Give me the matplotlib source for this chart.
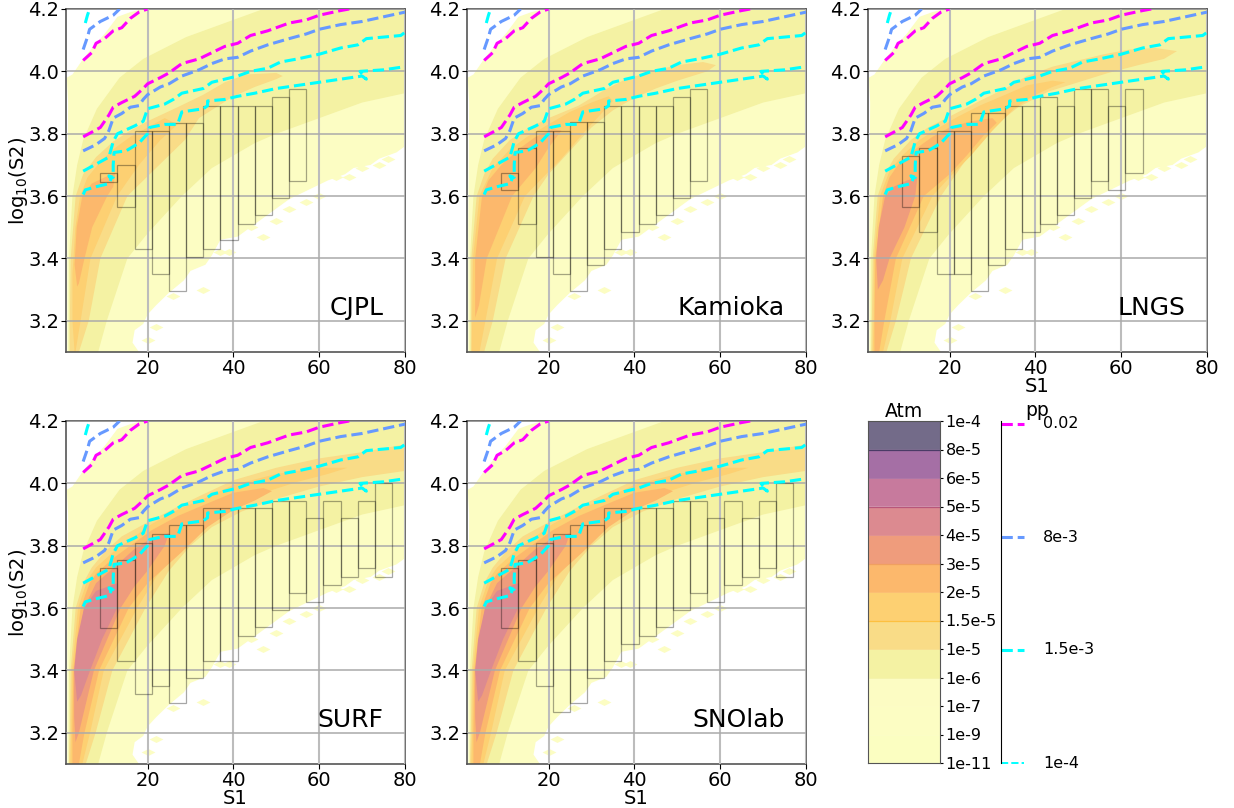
import matplotlib
matplotlib.use("Agg")
import matplotlib.pyplot as plt
from matplotlib.markers import MarkerStyle
from matplotlib.patches import Rectangle
from matplotlib.transforms import Affine2D

# colours of the Atm bands, bottom to top
band_colors = ["#fbfec1", "#fcfdc3", "#fcfcc3", "#f4f2a3", "#f9dc87", "#fdd072",
               "#fcb86c", "#ef9c7c", "#dc8a90", "#c77a9d", "#a56fa5", "#736b89"]
atm_ticks = ["1e-11", "1e-9", "1e-7", "1e-6", "1e-5", "1.5e-5", "2e-5", "3e-5",
             "4e-5", "5e-5", "6e-5", "8e-5", "1e-4"]
pp_ticks = ["1e-4", "1.5e-3", "8e-3", "0.02"]
pp_colors = ["cyan", "cyan", "#6699ff", "magenta"]

# outer pale region, same in every panel
c0_x = [1.3, 1.3, 1.5, 1.2, 2.5, 5, 8, 10, 13, 16, 19, 80, 80, 78, 74, 72, 68, 66, 62, 59, 56, 53, 50, 47, 44,
        41, 37, 35, 33.5, 30, 28.5, 25, 22, 20, 19, 17, 16.5, 18]
c0_y = [3.1, 3.5, 3.9, 3.98, 3.99, 4.04, 4.09, 4.12, 4.175, 4.19, 4.2, 4.2, 3.76, 3.74, 3.72, 3.70, 3.69, 3.67,
        3.65, 3.63, 3.61, 3.59, 3.56, 3.53, 3.50, 3.47, 3.46, 3.41, 3.38, 3.36, 3.33, 3.29, 3.25, 3.22, 3.19, 3.17,
        3.13, 3.1]
# 1e-6 contour, same in every panel
c1_x = [1.6, 1.7, 2.5, 3.6, 5, 8.2, 13.5, 19, 29, 40, 47, 80, 80, 70, 60, 50, 45, 40, 35, 28, 20, 15.3, 10.5, 8.5]
c1_y = [3.1, 3.4, 3.6, 3.7, 3.78, 3.88, 3.98, 4.04, 4.11, 4.165, 4.2, 4.2, 3.93, 3.9, 3.85, 3.80, 3.77, 3.73,
        3.69, 3.6, 3.48, 3.4, 3.2, 3.1]

cjpl_c2_x = [1.9, 1.9, 2.1, 3.25, 5, 8, 12, 16, 20, 27, 33, 38, 43, 50, 51.5, 50, 45, 40, 32, 28.7, 20.5, 15.3, 9,
             6.3, 4]
cjpl_c2_y = [3.1, 3.2, 3.4, 3.6, 3.67, 3.725, 3.775, 3.81, 3.84, 3.885, 3.925, 3.965, 3.99, 3.995, 3.985, 3.975,
             3.95, 3.92, 3.85, 3.78, 3.67, 3.6, 3.4, 3.2, 3.1]
cjpl_c3_x = [3, 2.5, 2.5, 3.2, 4.3, 6, 9, 12, 16, 20, 24, 27, 23, 18, 12.9, 6.7, 4.4, 3.2]
cjpl_c3_y = [3.1, 3.2, 3.35, 3.5, 3.6, 3.66, 3.71, 3.75, 3.79, 3.82, 3.85, 3.83, 3.78, 3.70, 3.6, 3.4, 3.2, 3.1]
cjpl_c4_x = [3.6, 3, 3.5, 4.8, 7, 10, 12.5, 12, 10.6, 7.1, 5.3, 4]
cjpl_c4_y = [3.31, 3.38, 3.5, 3.6, 3.64, 3.66, 3.675, 3.63, 3.6, 3.5, 3.4, 3.32]

kam_c2_x = [1.9, 2, 3.25, 5, 7, 11, 15, 20, 27, 33, 38, 44, 50, 56, 59, 57, 50, 45, 40, 35, 30, 25, 20, 16.5, 10, 7,
            5]
kam_c2_y = [3.1, 3.4, 3.6, 3.67, 3.72, 3.78, 3.815, 3.85, 3.89, 3.94, 3.975, 4.0, 4.02, 4.03, 4.02, 4.0, 3.97,
            3.945, 3.915, 3.875, 3.82, 3.745, 3.67, 3.6, 3.4, 3.2, 3.1]
kam_c3_x = [2.1, 2.4, 3.9, 7, 11, 15, 20, 25, 30, 34, 35, 32, 28, 23, 18, 14.5, 8, 5.3, 3.9]
kam_c3_y = [3.1, 3.4, 3.6, 3.69, 3.75, 3.79, 3.83, 3.87, 3.90, 3.92, 3.905, 3.86, 3.80, 3.72, 3.65, 3.6, 3.4, 3.2,
            3.1]
kam_c4_x = [2.9, 2.9, 4.5, 6, 9, 13, 17, 21, 23, 20, 17, 11.5, 5.6, 3.8]
kam_c4_y = [3.21, 3.4, 3.6, 3.65, 3.70, 3.75, 3.79, 3.815, 3.81, 3.755, 3.69, 3.6, 3.4, 3.25]

lngs_c2_x = [1.8, 1.9, 2.1, 3.25, 5, 7, 11, 15, 20, 27, 33, 38, 44, 50, 56, 62, 68, 73, 70, 64, 57, 50, 43, 36, 30,
             25, 18, 11, 7.5, 5.3]
lngs_c2_y = [3.1, 3.2, 3.4, 3.6, 3.67, 3.72, 3.78, 3.82, 3.855, 3.905, 3.945, 3.985, 4.015, 4.035, 4.055, 4.07,
             4.075, 4.065, 4.04, 4.02, 3.995, 3.965, 3.935, 3.885, 3.82, 3.74, 3.6, 3.4, 3.2, 3.1]
lngs_c3_x = [2.1, 2.3, 2.4, 3.8, 6, 9, 13, 17, 22, 27, 33, 38, 44, 47, 44, 40, 35, 30, 25, 20, 16, 9, 6.2, 4.5]
lngs_c3_y = [3.1, 3.2, 3.4, 3.6, 3.68, 3.73, 3.78, 3.815, 3.855, 3.89, 3.925, 3.955, 3.97, 3.965, 3.95, 3.925, 3.88,
             3.81, 3.73, 3.66, 3.6, 3.4, 3.2, 3.1]
lngs_c4_x = [2.5, 2.5, 2.7, 4.5, 6, 8, 12, 16, 20, 25, 30, 31, 28, 24, 20, 14, 7.5, 4.8, 3.6]
lngs_c4_y = [3.1, 3.2, 3.4, 3.6, 3.66, 3.7, 3.75, 3.79, 3.82, 3.84, 3.85, 3.835, 3.795, 3.73, 3.67, 3.6, 3.4, 3.2,
             3.1]
lngs_c5_x = [3.3, 2.9, 3.5, 5, 7, 10, 12.5, 12, 9.5, 6, 4.5]
lngs_c5_y = [3.3, 3.4, 3.5, 3.6, 3.63, 3.65, 3.66, 3.6, 3.5, 3.4, 3.33]

# SURF and SNOlab have almost the same inner contours
deep_c2_x = [1.7, 1.9, 2.1, 3.25, 5, 7, 10, 14, 20, 27, 33, 40, 50, 60, 70, 80, 80, 70, 60, 50, 42, 35, 30, 25, 19.5,
             11.8, 7.9, 5.6]
deep_c2_y = [3.1, 3.2, 3.4, 3.6, 3.68, 3.73, 3.78, 3.83, 3.875, 3.925, 3.965, 4.01, 4.05, 4.08, 4.10, 4.125, 4.04,
             4.02, 3.99, 3.95, 3.91, 3.86, 3.80, 3.72, 3.6, 3.4, 3.2, 3.1]
deep_c3_x = [2, 2.2, 2.4, 3.8, 6, 8, 12, 16, 21, 27, 33, 40, 50, 60, 66.6, 62, 55, 47, 40, 33, 27, 22, 17.6, 9.8,
             6.6, 4.8]
deep_c3_y = [3.1, 3.2, 3.4, 3.6, 3.69, 3.73, 3.78, 3.82, 3.87, 3.915, 3.95, 3.995, 4.03, 4.05, 4.05, 4.03, 4.005,
             3.97, 3.925, 3.86, 3.78, 3.70, 3.6, 3.4, 3.2, 3.1]
deep_c4_x = [2.5, 2.5, 2.7, 4.4, 6.5, 8, 12, 16, 21, 27, 33, 40, 47, 49, 45, 40, 34, 28, 20, 15.6, 8.7, 5.3, 4]
deep_c4_y = [3.1, 3.2, 3.4, 3.6, 3.68, 3.71, 3.76, 3.80, 3.85, 3.895, 3.93, 3.97, 3.985, 3.975, 3.945, 3.915, 3.86,
             3.78, 3.68, 3.6, 3.4, 3.2, 3.1]
deep_c5_x = [3.2, 2.9, 2.9, 5.2, 8, 13, 17, 21, 25, 24, 20, 17, 13.7, 7.5, 4]
deep_c5_y = [3.17, 3.25, 3.4, 3.6, 3.68, 3.74, 3.79, 3.825, 3.84, 3.8, 3.72, 3.67, 3.6, 3.4, 3.2]
deep_c6_x = [3.6, 2.9, 3.6, 5.2, 8, 13, 12.9, 9.4, 6.6, 4.5]
deep_c6_y = [3.3, 3.4, 3.5, 3.6, 3.655, 3.68, 3.6, 3.5, 3.4, 3.32]

# pp contours
magenta_x = [5, 7, 9, 11, 12, 14, 17, 19, 20, 23, 25, 28, 32, 35, 38, 41, 44, 48, 53, 57, 60, 65, 67]
magenta_y = [3.79, 3.805, 3.82, 3.86, 3.885, 3.90, 3.92, 3.945, 3.96, 3.98, 3.995, 4.025, 4.04, 4.06, 4.08, 4.09,
             4.115, 4.13, 4.155, 4.165, 4.18, 4.195, 4.2]
magenta_top_x = [5, 7, 8, 10, 12, 14, 16, 18, 20]
magenta_top_y = [4.035, 4.06, 4.09, 4.105, 4.13, 4.14, 4.17, 4.19, 4.2]
blue_x = [5, 8, 10, 11, 12, 14, 16, 18, 19, 20, 23, 25, 28, 32, 35, 38, 41, 44, 48, 53, 57, 60, 65, 70, 75, 80]
blue_y = [3.745, 3.765, 3.785, 3.81, 3.85, 3.865, 3.885, 3.89, 3.91, 3.925, 3.95, 3.96, 3.985, 4.005, 4.025, 4.04,
          4.045, 4.065, 4.085, 4.105, 4.12, 4.135, 4.15, 4.16, 4.175, 4.19]
blue_top_x = [5, 5.5, 6, 6.5, 9, 12, 13.5]
blue_top_y = [4.07, 4.09, 4.11, 4.135, 4.16, 4.18, 4.2]
cyan_a_x = [5, 9, 11, 12, 13, 17, 19, 20, 24, 26, 28, 33, 35, 38, 41, 44, 48, 51, 55, 60, 65, 69, 71, 75, 79, 80]
cyan_a_y = [3.68, 3.71, 3.725, 3.775, 3.80, 3.825, 3.84, 3.88, 3.895, 3.91, 3.93, 3.945, 3.965, 3.975, 3.985, 4.00,
            4.01, 4.03, 4.04, 4.055, 4.075, 4.085, 4.105, 4.11, 4.115, 4.125]
cyan_b_x = [5, 5.5, 8, 11, 11.5, 11, 12, 12, 12.2, 15, 18, 20, 20.5, 24, 27, 28, 33, 34, 34, 38, 41, 45, 50, 55, 60,
            65, 70, 71, 69.5, 75, 80]
cyan_b_y = [3.605, 3.62, 3.63, 3.64, 3.655, 3.665, 3.66, 3.70, 3.74, 3.745, 3.77, 3.80, 3.82, 3.83, 3.83, 3.87, 3.88,
            3.89, 3.905, 3.91, 3.92, 3.93, 3.945, 3.955, 3.965, 3.975, 3.985, 3.975, 4.0, 4.005, 4.015]
cyan_top_x = [5.5, 6, 6.5]
cyan_top_y = [4.155, 4.18, 4.2]

# black outlined boxes, left edge / bottom / top
cjpl_left = [9, 13, 17, 21, 25, 29, 33, 37, 41, 45, 49, 53]
cjpl_low = [3.645, 3.565, 3.43, 3.35, 3.295, 3.405, 3.43, 3.458, 3.51, 3.538, 3.593, 3.647]
cjpl_high = [3.675, 3.70, 3.81, 3.81, 3.835, 3.835, 3.89, 3.89, 3.89, 3.89, 3.917, 3.945]
kam_left = [9, 13, 17, 21, 25, 29, 33, 37, 41, 45, 49, 53]
kam_low = [3.62, 3.51, 3.405, 3.35, 3.295, 3.378, 3.43, 3.485, 3.51, 3.538, 3.593, 3.647]
kam_high = [3.675, 3.755, 3.81, 3.81, 3.837, 3.837, 3.89, 3.89, 3.89, 3.89, 3.917, 3.945]
lngs_left = [9, 13, 17, 21, 25, 29, 33, 37, 41, 45, 49, 53, 57, 61]
lngs_low = [3.565, 3.485, 3.35, 3.35, 3.295, 3.378, 3.43, 3.485, 3.51, 3.538, 3.593, 3.647, 3.62, 3.675]
lngs_high = [3.73, 3.755, 3.81, 3.81, 3.865, 3.865, 3.89, 3.89, 3.917, 3.89, 3.945, 3.945, 3.89, 3.945]
surf_left = [9, 13, 17, 21, 25, 29, 33, 37, 41, 45, 49, 53, 57, 61, 65, 69, 73]
surf_low = [3.537, 3.43, 3.323, 3.35, 3.295, 3.377, 3.43, 3.43, 3.51, 3.538, 3.593, 3.647, 3.62, 3.673, 3.70, 3.728,
            3.70]
surf_high = [3.73, 3.755, 3.81, 3.838, 3.865, 3.865, 3.92, 3.92, 3.92, 3.92, 3.945, 3.945, 3.89, 3.945, 3.89, 3.945,
             4.0]
sno_left = [9, 13, 17, 21, 25, 29, 33, 37, 41, 45, 49, 53, 57, 61, 65, 69, 73]
sno_low = [3.537, 3.43, 3.35, 3.267, 3.295, 3.377, 3.43, 3.485, 3.51, 3.538, 3.593, 3.647, 3.62, 3.673, 3.70, 3.728,
           3.70]
sno_high = [3.73, 3.755, 3.81, 3.838, 3.865, 3.865, 3.92, 3.92, 3.92, 3.92, 3.945, 3.945, 3.89, 3.945, 3.89, 3.945,
            4.0]

# loose pale cells below the edge of the region
cells_x = [20, 22, 26, 33, 37, 39, 44, 47, 50, 53, 57, 60, 64, 67, 70, 74, 76]
cells_y = [3.14, 3.18, 3.28, 3.30, 3.42, 3.42, 3.50, 3.47, 3.52, 3.56, 3.58, 3.60, 3.66, 3.66, 3.69, 3.70, 3.72]

names = ["CJPL", "Kamioka", "LNGS", "SURF", "SNOlab"]
inner = [
    [(cjpl_c2_x, cjpl_c2_y), (cjpl_c3_x, cjpl_c3_y), (cjpl_c4_x, cjpl_c4_y)],
    [(kam_c2_x, kam_c2_y), (kam_c3_x, kam_c3_y), (kam_c4_x, kam_c4_y)],
    [(lngs_c2_x, lngs_c2_y), (lngs_c3_x, lngs_c3_y), (lngs_c4_x, lngs_c4_y), (lngs_c5_x, lngs_c5_y)],
    [(deep_c2_x, deep_c2_y), (deep_c3_x, deep_c3_y), (deep_c4_x, deep_c4_y), (deep_c5_x, deep_c5_y),
     (deep_c6_x, deep_c6_y)],
    [(deep_c2_x, deep_c2_y), (deep_c3_x, deep_c3_y), (deep_c4_x, deep_c4_y), (deep_c5_x, deep_c5_y),
     (deep_c6_x, deep_c6_y)],
]
boxes = [(cjpl_left, cjpl_low, cjpl_high), (kam_left, kam_low, kam_high), (lngs_left, lngs_low, lngs_high),
         (surf_left, surf_low, surf_high), (sno_left, sno_low, sno_high)]

W, H = 1234, 808
fig = plt.figure(figsize=(W / 100, H / 100), dpi=100)


def px_axes(x0, y0, x1, y1):
    return fig.add_axes([x0 / W, 1 - y1 / H, (x1 - x0) / W, (y1 - y0) / H])


panel_px = [(66, 9), (467, 9), (868, 9), (66, 421), (467, 421)]
cell_marker = MarkerStyle("D", transform=Affine2D().scale(1.5, 0.75))

for i, (x0, y0) in enumerate(panel_px):
    ax = px_axes(x0, y0, x0 + 339, y0 + 343)
    ax.fill(c0_x, c0_y, color=band_colors[1], lw=0, zorder=1)
    ax.scatter(cells_x, cells_y, marker=cell_marker, s=22, color=band_colors[1], lw=0, zorder=1)
    ax.fill(c1_x, c1_y, color=band_colors[3], lw=0, zorder=1.1)
    for j, (bx, by) in enumerate(inner[i]):
        ax.fill(bx, by, color=band_colors[4 + j], lw=0, zorder=1.2 + j * 0.1)

    ax.grid(True, axis="x", color="#bcbcbc", lw=1.5, zorder=2)
    ax.grid(True, axis="y", color="#aaaaaa", lw=1.1, zorder=2)
    ax.set_axisbelow(False)
    for line in ax.get_xgridlines() + ax.get_ygridlines():
        line.set_zorder(2)

    left, low, high = boxes[i]
    for l, b, t in zip(left, low, high):
        ax.add_patch(Rectangle((l, b), 4, t - b, fill=False, ec="black", alpha=0.35, lw=0.9, zorder=3))

    ax.plot(magenta_x, magenta_y, "--", color=pp_colors[3], lw=2.2, zorder=4)
    ax.plot(magenta_top_x, magenta_top_y, "--", color=pp_colors[3], lw=2.2, zorder=4)
    ax.plot(blue_x, blue_y, "--", color=pp_colors[2], lw=2.2, zorder=4)
    ax.plot(blue_top_x, blue_top_y, "--", color=pp_colors[2], lw=2.2, zorder=4)
    ax.plot(cyan_a_x, cyan_a_y, "--", color=pp_colors[1], lw=2.2, zorder=4)
    ax.plot(cyan_b_x, cyan_b_y, "--", color=pp_colors[0], lw=2.2, zorder=4)
    ax.plot(cyan_top_x, cyan_top_y, "--", color=pp_colors[1], lw=2.2, zorder=4)

    ax.set_xlim(1, 80)
    ax.set_ylim(3.1, 4.2)
    ax.set_xticks([20, 40, 60, 80])
    ax.set_yticks([3.2, 3.4, 3.6, 3.8, 4.0, 4.2])
    ax.tick_params(labelsize=14, pad=1.5)
    ax.text(75, 3.24, names[i], fontsize=18, ha="right", va="center", zorder=5)
    if i in (0, 3):
        ax.set_ylabel(r"log$_{10}$(S2)", fontsize=14, labelpad=-1.2)
    if i >= 2:
        ax.set_xlabel("S1", fontsize=14, labelpad=-0.5)
    for s in ax.spines.values():
        s.set_color("#555555")
        s.set_linewidth(1.2)

# Atm colour bar
cax = px_axes(868, 421, 940, 763)
cax.barh(range(len(band_colors)), [1] * len(band_colors), height=1, align="edge", color=band_colors,
         edgecolor=band_colors, lw=0.4)
for lev, col in zip([11, 9, 7, 5], ["#4a3b66", "#b8567a", "#f0a060", "#fdc040"]):
    cax.axhline(lev, color=col, lw=0.9)
cax.set_xlim(0, 1)
cax.set_ylim(0, len(band_colors))
cax.set_xticks([])
cax.set_yticks(range(len(atm_ticks)))
cax.set_yticklabels(atm_ticks, fontsize=11.5)
cax.yaxis.tick_right()
cax.tick_params(axis="y", length=2, pad=2)
cax.set_title("Atm", fontsize=13.5, pad=2)
for s in cax.spines.values():
    s.set_color("#555555")

# pp key
pax = px_axes(1001, 421, 1100, 763)
for k, c in enumerate(pp_colors):
    pax.plot([0, 23], [k, k], "--", color=c, lw=2.2 if k else 1.4)
    pax.text(42, k, pp_ticks[k], fontsize=11.5, va="center")
pax.set_xlim(0, 99)
pax.set_ylim(0, 3 * 342 / 339)
pax.set_xticks([])
pax.set_yticks([])
for name in ("top", "right", "bottom"):
    pax.spines[name].set_visible(False)
pax.patch.set_visible(False)
for t in pax.lines:
    t.set_clip_on(False)
fig.text(1037 / W, 1 - 411 / H, "pp", fontsize=13.5, ha="center", va="center")

fig.savefig("out.png", dpi=100)
